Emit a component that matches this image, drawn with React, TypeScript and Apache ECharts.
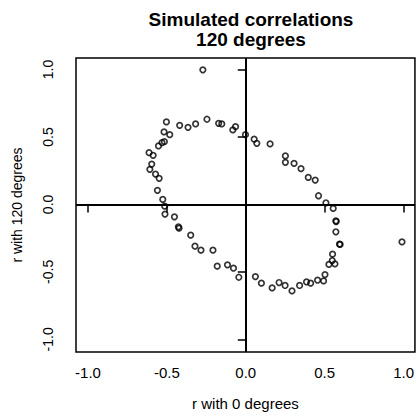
import React, { useEffect, useRef } from "react";
import * as echarts from "echarts";

const xValues = [
  -0.272, -0.503, -0.518, -0.482, -0.419, -0.366, -0.318, -0.246, -0.172, -0.152,
  -0.082, -0.065, -0.002, -0.516, -0.531, -0.553, -0.613, -0.587, -0.596, -0.608,
  -0.572, -0.549, -0.56, -0.526, -0.514, 0.053, 0.07, 0.154, 0.251, 0.251,
  0.306, 0.35, 0.396, 0.44, 0.461, 0.508, 0.554, -0.512, -0.452, -0.427,
  -0.423, -0.349, -0.322, -0.284, -0.208, -0.181, -0.116, -0.078, -0.044, 0.061,
  0.099, 0.167, 0.211, 0.249, 0.293, 0.341, 0.385, 0.411, 0.455, 0.493,
  0.502, 0.527, 0.548, 0.565, 0.55, 0.594, 0.598, 0.571, 0.571, 0.573, 0.99,
];
const yValues = [
  0.997, 0.611, 0.537, 0.517, 0.586, 0.571, 0.596, 0.631, 0.601, 0.596,
  0.552, 0.576, 0.517, 0.465, 0.457, 0.433, 0.383, 0.364, 0.299, 0.26,
  0.225, 0.193, 0.104, 0.037, -0.013, 0.483, 0.453, 0.448, 0.359, 0.312,
  0.304, 0.265, 0.2, 0.18, 0.064, 0.012, -0.03, -0.072, -0.092, -0.166,
  -0.176, -0.228, -0.31, -0.339, -0.339, -0.458, -0.448, -0.473, -0.54, -0.535,
  -0.584, -0.619, -0.579, -0.601, -0.641, -0.601, -0.575, -0.584, -0.562, -0.567,
  -0.52, -0.445, -0.416, -0.441, -0.369, -0.295, -0.297, -0.203, -0.122, -0.127, -0.278,
];
const tickValues = [-1, -0.5, 0, 0.5, 1];
const titleLines = ["Simulated correlations", "120 degrees"];
const xTitle = "r with 0 degrees";
const yTitle = "r with 120 degrees";

export default function App() {
  const ref = useRef<HTMLDivElement>(null);
  useEffect(() => {
    if (!ref.current) return;
    const chart = echarts.init(ref.current, null, { renderer: "svg" });
    const font = "'Liberation Sans', Arial, Helvetica, sans-serif";
    const data = xValues.map((x, i) => [x, yValues[i]]);
    chart.setOption({
      animation: false,
      backgroundColor: "#fff",
      title: {
        text: titleLines.join("\n"),
        left: 246,
        top: 4,
        textAlign: "center",
        textStyle: {
          fontFamily: font,
          fontSize: 19,
          fontWeight: "bold",
          color: "#000",
          lineHeight: 20,
        },
      },
      grid: {
        left: 76,
        top: 58,
        right: 1,
        bottom: 65,
        show: true,
        borderColor: "#000",
        borderWidth: 1.5,
        backgroundColor: "transparent",
      },
      xAxis: {
        type: "value",
        min: -1.076,
        max: 1.072,
        name: xTitle,
        nameLocation: "middle",
        nameGap: 44,
        nameTextStyle: { fontFamily: font, fontSize: 15, color: "#000" },
        axisLine: { show: false },
        splitLine: { show: false },
        axisTick: {
          show: true,
          length: 8,
          customValues: tickValues,
          lineStyle: { color: "#000", width: 1.5 },
        },
        axisLabel: {
          customValues: tickValues,
          margin: 13,
          fontFamily: font,
          fontSize: 15,
          color: "#000",
          formatter: (v: number) => v.toFixed(1),
        },
      },
      yAxis: {
        type: "value",
        min: -1.094,
        max: 1.085,
        name: yTitle,
        nameLocation: "middle",
        nameGap: 52,
        nameTextStyle: { fontFamily: font, fontSize: 14, color: "#000" },
        axisLine: { show: false },
        splitLine: { show: false },
        axisTick: {
          show: true,
          length: 8,
          customValues: tickValues,
          lineStyle: { color: "#000", width: 1.5 },
        },
        axisLabel: {
          customValues: tickValues,
          rotate: 90,
          margin: 21,
          fontFamily: font,
          fontSize: 14,
          color: "#000",
          formatter: (v: number) => v.toFixed(1),
        },
      },
      series: [
        {
          type: "scatter",
          data,
          symbol: "circle",
          symbolSize: 5.5,
          itemStyle: { color: "transparent", borderColor: "#000", borderWidth: 1.7 },
          markLine: {
            silent: true,
            symbol: ["none", "none"],
            label: { show: false },
            lineStyle: { color: "#000", width: 2, type: "solid" },
            data: [{ xAxis: 0 }, { yAxis: 0 }],
          },
        },
      ],
    });
    return () => chart.dispose();
  }, []);
  return (
    <div
      ref={ref}
      style={{ position: "fixed", left: 0, top: 0, width: 417, height: 417, background: "#fff" }}
    />
  );
}
